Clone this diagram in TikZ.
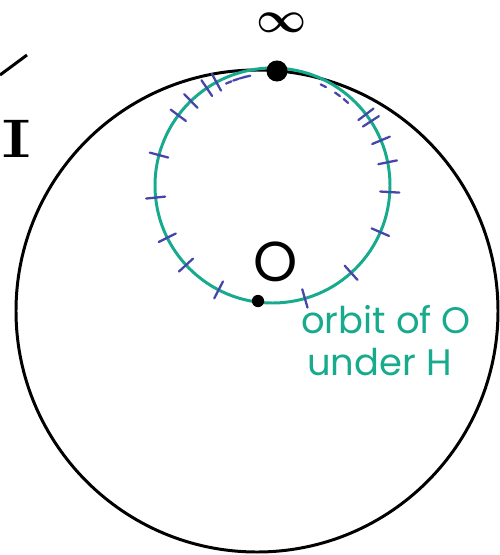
\documentclass[tikz,border=0pt]{standalone}
\usepackage{fontspec}
\newfontfamily\handfont{Poppins}
\newfontfamily\seriffont{DejaVu Serif}
\usetikzlibrary{calc}
\definecolor{orbitgreen}{RGB}{24,170,140}
\definecolor{tickblue}{RGB}{70,70,170}

\begin{document}
\begin{tikzpicture}[x=0.02cm, y=-0.02cm,
    disk/.style={draw=black, line width=1.7pt},
    orbitline/.style={draw=orbitgreen, line width=1.7pt},
    tickmark/.style={draw=tickblue, line width=1.3pt, line cap=round},
    blob/.style={circle, fill=black, inner sep=0pt},
    hand/.style={font=\handfont\fontsize{21}{24}\selectfont, text=orbitgreen, inner sep=0pt}
]
    \useasboundingbox (0,0) rectangle (500,555);
    \clip (0,0) rectangle (500,555);

    % the disk
    \coordinate (c) at (257,311);
    \draw[disk] (c) circle (241);

    % orbit circle with its marks
    \coordinate (o) at (272.5,185.5);
    \draw[orbitline] (o) circle (117.5);
    \foreach \a in {242.7,222.6,206.4,185.9,165,143.3,134,124,118.5,
                    286,312,336.6,356.8,11.4,22.6,33.1,37.3}
        \draw[tickmark] ($(o)+(-\a:108)$) -- ($(o)+(-\a:127)$);
    \foreach \a in {113,109,105.5,103,63,54.5,49}
        \draw[tickmark] ($(o)+(-\a-1.5:112)$) -- ($(o)+(-\a+1.5:112)$);

    % points and labels
    \node[blob, minimum size=12pt] (inf) at (277,71) {};
    \node[font=\fontsize{23}{25}\selectfont\boldmath, inner sep=0pt] (infty) at (282,23) {$\infty$};
    \node[blob, minimum size=7pt] (base) at (258,301) {};
    \node[font=\handfont\fontsize{32}{34}\selectfont, inner sep=0pt] (zero) at (276,262) {O};
    \node[hand, anchor=base west] (orbit) at (301,333) {orbit of O};
    \node[hand, anchor=base west] (under) at (307,375) {under H};

    % marks at the left edge
    \coordinate (p) at (0,75);
    \coordinate (q) at (27,55);
    \draw[disk] (p) -- (q);
    \node[font=\seriffont\fontsize{29}{30}\selectfont, xscale=1.7, inner sep=0pt] (ident) at (17,139) {I};
\end{tikzpicture}
\end{document}
